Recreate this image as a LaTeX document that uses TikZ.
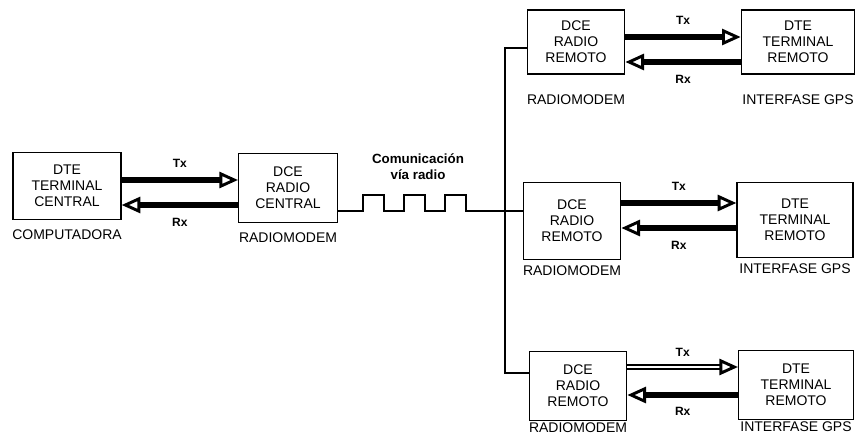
\documentclass[tikz,border=0pt]{standalone}
\usepackage{fontspec}
\setmainfont{Liberation Sans}
\usetikzlibrary{arrows.meta,positioning}

\tikzset{
  caja/.style={draw,line width=1pt,align=center,font=\fontsize{10.5}{12}\selectfont,inner sep=1pt},
  etiq/.style={font=\fontsize{10.5}{12}\selectfont,inner sep=1pt},
  txrx/.style={font=\bfseries\fontsize{9}{10}\selectfont,inner sep=1pt},
  punta/.style={-{Triangle[open,length=14pt,width=12pt,line width=2.2pt,fill=white]}},
  flecha/.style={punta,line width=4.5pt},
  flechad/.style={punta,double,double distance=2pt,line width=1.5pt}
}

\begin{document}
\begin{tikzpicture}[x=0.75pt,y=-0.75pt]
  \useasboundingbox (0,0) rectangle (862,435);
  \def\p{41}

  \node[caja,minimum width=81pt,minimum height=50pt] (dteC) at (67,186) {DTE\\TERMINAL\\CENTRAL};
  \node[caja,minimum width=74pt,minimum height=52pt] (dceC) at (288,188) {DCE\\RADIO\\CENTRAL};
  \node[etiq,below=6pt of dteC] (lbC) {COMPUTADORA};
  \node[etiq,below=6pt of dceC] (lbR) {RADIOMODEM};

  \node[caja,minimum width=73pt,minimum height=48pt] (dceA) at (576,42) {DCE\\RADIO\\REMOTO};
  \node[caja,minimum width=85pt,minimum height=48pt] (dteA) at (798,42) {DTE\\TERMINAL\\REMOTO};
  \node[caja,minimum width=73pt,minimum height=58pt] (dceB) at (572,221) {DCE\\RADIO\\REMOTO};
  \node[caja,minimum width=87pt,minimum height=56pt] (dteB) at (795,220) {DTE\\TERMINAL\\REMOTO};
  \node[caja,minimum width=73pt,minimum height=52pt] (dceD) at (578,386) {DCE\\RADIO\\REMOTO};
  \node[caja,minimum width=86pt,minimum height=52pt] (dteD) at (796,385) {DTE\\TERMINAL\\REMOTO};

  \node[etiq,below=14pt of dceA] (lbA) {RADIOMODEM};
  \node[etiq,below=14pt of dteA] (lgA) {INTERFASE GPS};
  \node[etiq,below=3pt of dceB] (lbB) {RADIOMODEM};
  \node[etiq,below=3pt of dteB] (lgB) {INTERFASE GPS};
  \node[etiq,below=0pt of dceD] (lbD) {RADIOMODEM};
  \node[etiq,below=0pt of dteD] (lgD) {INTERFASE GPS};

  \draw[flecha] (dteC.east |- 0,180) -- (dceC.west |- 0,180) node[txrx,midway,above=6pt] {Tx};
  \draw[flecha] (dceC.west |- 0,205) -- (dteC.east |- 0,205) node[txrx,midway,below=7pt] {Rx};
  \draw[flecha] (dceA.east |- 0,37) -- (dteA.west |- 0,37) node[txrx,midway,above=6pt] {Tx};
  \draw[flecha] (dteA.west |- 0,62) -- (dceA.east |- 0,62) node[txrx,midway,below=7pt] {Rx};
  \draw[flecha] (dceB.east |- 0,203) -- (dteB.west |- 0,203) node[txrx,midway,above=6pt] {Tx};
  \draw[flecha] (dteB.west |- 0,228) -- (dceB.east |- 0,228) node[txrx,midway,below=7pt] {Rx};
  \draw[flechad] (dceD.east |- 0,367) -- (dteD.west |- 0,367) node[txrx,midway,above=6pt] {Tx};
  \draw[flecha] (dteD.west |- 0,395) -- (dceD.east |- 0,395) node[txrx,midway,below=6pt] {Rx};

  \node[font=\bfseries\fontsize{10}{12}\selectfont,align=center] (via) at (418,167) {Comunicación\\vía radio};

  \coordinate (bus) at (505,211);
  \draw[line width=0.9pt] (dceC.east |- 0,211)
    foreach \i in {0,1,2} { -- (363+\p*\i,211) -- (363+\p*\i,195) -- (384+\p*\i,195) -- (384+\p*\i,211) }
    -- (bus) -- (dceB.west |- bus);
  \draw[line width=0.9pt] (dceA.west |- 0,48) -| (bus) |- (dceD.west |- 0,373);
\end{tikzpicture}
\end{document}
